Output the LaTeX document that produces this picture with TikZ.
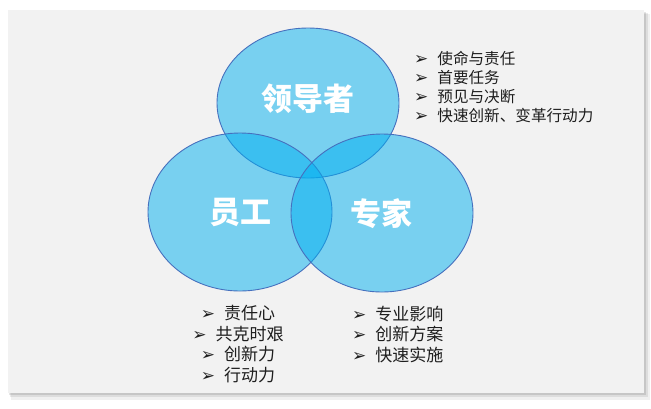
\documentclass[tikz,border=0pt]{standalone}
\usepackage{fontspec}
\setmainfont{Noto Sans CJK SC}
\newfontfamily\dingfont{DejaVu Sans}
\usepackage{xcolor}

\definecolor{paper}{RGB}{242,242,242}
\definecolor{sky}{RGB}{0,176,240}
\definecolor{rim}{RGB}{70,112,190}
\definecolor{ink}{RGB}{30,30,30}

\newcommand{\arrowmark}{{\dingfont\fontsize{17}{17}\selectfont ➢}\hspace{9pt}}

\tikzset{
  venn/.style={draw=rim, line width=0.9pt, fill=sky, fill opacity=0.5},
  role/.style={text=white, inner sep=0pt, font=\bfseries\fontsize{31}{31}\selectfont},
  duties/.style={text=ink, inner sep=0pt, font=\fontsize{15.6}{18.7}\selectfont},
  bigduties/.style={text=ink, inner sep=0pt, font=\fontsize{17}{20.5}\selectfont},
}

\begin{document}
\begin{tikzpicture}[x=1pt, y=-1pt]
    \useasboundingbox (0,0) rectangle (651,408);

    % sheet with shadow
    \fill[black, opacity=0.06] (11,14) rectangle (650,400);
    \fill[black, opacity=0.08] (10,13) rectangle (648,397);
    \fill[black, opacity=0.10] (9,12) rectangle (646,395);
    \fill[paper] (8,10) rectangle (644,393);

    \draw[venn] (308,103) ellipse [x radius=91, y radius=75];
    \draw[venn] (240,212) ellipse [x radius=92, y radius=79];
    \draw[venn] (382,213) ellipse [x radius=91, y radius=79];

    \node[role] (leader) at (308,99) {领导者};
    \node[role] (staff) at (240,212) {员工};
    \node[role] (expert) at (381,214) {专家};

    \node[duties, anchor=north west, align=left] (leadlist) at (414,51.5)
        {\arrowmark 使命与责任\\ \arrowmark 首要任务\\ \arrowmark 预见与决断\\ \arrowmark 快速创新、变革行动力};

    \node[bigduties, anchor=north, align=center] (stafflist) at (238,305.5)
        {\arrowmark 责任心\\ \arrowmark 共克时艰\\ \arrowmark 创新力\\ \arrowmark 行动力};

    \node[bigduties, anchor=north west, align=left] (expertlist) at (352,305.5)
        {\arrowmark 专业影响\\ \arrowmark 创新方案\\ \arrowmark 快速实施};
\end{tikzpicture}
\end{document}
